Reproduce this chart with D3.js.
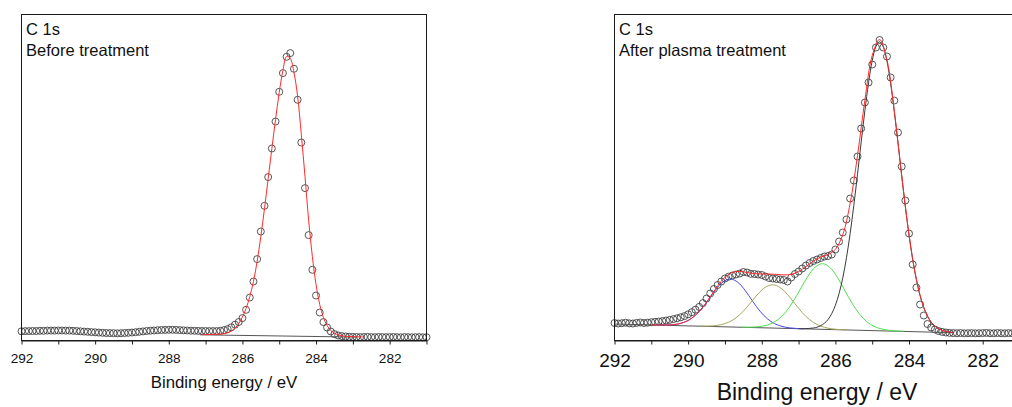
<!DOCTYPE html>
<html>
<head>
<meta charset="utf-8">
<script src="https://cdn.jsdelivr.net/npm/d3@7"></script>
<style>
  body { margin: 0; background: #fff; }
  text { font-family: "Liberation Sans", Arial, sans-serif; fill: #111; }
</style>
</head>
<body>
<div id="chart"></div>
<script>
// binding energy grid of the measured spectra (eV), 0.1 eV steps from 292 to 281
const energyStart = 292, energyStep = 0.1;

// C 1s before treatment: measured intensity (a.u.)
const beforeCounts = [
  9.2, 9.4, 9.4, 9.5, 9.5, 9.7, 9.7, 9.9, 9.9, 9.9,
  10.0, 10.0, 9.9, 9.9, 9.7, 9.5, 9.2, 8.9, 8.7, 8.4,
  8.2, 7.9, 7.7, 7.5, 7.4, 7.3, 7.2, 7.3, 7.5, 7.7,
  8.0, 8.3, 8.7, 9.1, 9.5, 9.8, 10.0, 10.3, 10.5, 10.6,
  10.7, 10.7, 10.6, 10.4, 10.2, 10.0, 9.8, 9.7, 9.6, 9.5,
  9.5, 9.4, 9.4, 9.4, 9.7, 10.4, 11.4, 13.2, 15.8, 18.5,
  22.4, 30.7, 43.0, 59.0, 81.4, 109.0, 134.7, 163.4, 192.0, 219.0,
  248.7, 267.4, 283.7, 287.4, 271.7, 240.7, 198.0, 152.4, 105.4, 70.7,
  45.0, 28.0, 18.4, 13.0, 9.0, 6.4, 5.0, 4.4, 4.0, 3.7,
  3.6, 3.5, 3.4, 3.5, 3.6, 3.4, 3.3, 3.5, 3.4, 3.3,
  3.4, 3.5, 3.3, 3.2, 3.4, 3.3, 3.2, 3.3, 3.4, 3.2,
  3.3
];
// fit envelope and background, before treatment [eV, intensity]
const beforeFit = [
  [287.1, 5.9], [286.9, 6.0], [286.7, 6.2], [286.5, 6.8], [286.4, 7.8], [286.3, 9.5],
  [286.2, 12.5], [286.1, 17], [286.0, 23.5], [285.9, 32], [285.8, 44], [285.7, 59],
  [285.6, 79], [285.5, 104], [285.4, 132], [285.3, 162], [285.2, 192], [285.1, 221],
  [285.0, 248], [284.9, 270], [284.8, 284], [284.7, 282], [284.6, 268], [284.5, 244],
  [284.4, 206], [284.3, 164], [284.2, 120], [284.1, 84], [284.0, 56], [283.9, 36],
  [283.8, 23], [283.7, 15], [283.6, 10], [283.5, 7.2], [283.4, 5.6], [283.3, 4.7],
  [283.2, 4.2], [283.0, 3.8], [282.8, 3.6], [282.7, 3.5]
];
const beforeBackground = [[287.15, 5.7], [282.9, 3.4]];

// C 1s after plasma treatment: measured intensity (a.u.)
const afterCounts = [
  17.5, 17.0, 17.3, 17.8, 17.2, 17.0, 17.6, 18.0, 17.5, 17.8,
  18.3, 18.6, 19.0, 19.4, 20.0, 20.6, 21.4, 22.2, 23.2, 24.4,
  26.2, 28.3, 30.8, 33.6, 37.4, 42.0, 47.0, 51.5, 55.5, 59.0,
  62.0, 63.8, 65.0, 66.0, 67.0, 68.5, 68.0, 66.7, 66.5, 66.0,
  65.5, 64.0, 62.5, 62.0, 61.5, 61.0, 60.5, 59.0, 63.0, 66.5,
  69.0, 72.0, 75.0, 77.5, 79.5, 81.0, 82.5, 84.0, 84.5, 86.0,
  91.0, 99.0, 108.0, 121.0, 142.0, 160.0, 184.0, 212.0, 238.0, 258.0,
  276.0, 293.0, 300.5, 293.0, 284.0, 263.0, 240.0, 208.0, 174.0, 140.0,
  107.0, 76.0, 53.0, 36.0, 25.0, 16.5, 13.0, 11.0, 9.5, 8.6,
  8.0, 7.6, 7.4, 7.3, 7.5, 7.2, 7.3, 7.4, 7.2, 7.3,
  7.4, 7.6, 7.3, 7.2, 7.5, 7.3, 7.2, 7.4, 7.3, 7.2,
  7.3
];
const afterBackground = [[292.0, 16.5], [282.8, 7.8]];
// fitted components after treatment [eV, intensity]
const afterBlue = [
  [290.85, 15.5], [290.65, 15.4], [290.45, 15.7], [290.25, 16.7], [290.05, 19.1],
  [289.85, 23.7], [289.65, 31.0], [289.45, 40.6], [289.25, 50.8], [289.05, 58.6],
  [288.85, 61.5], [288.65, 58.2], [288.45, 50.0], [288.25, 39.4], [288.05, 29.4],
  [287.85, 21.8], [287.65, 16.8], [287.45, 14.1], [287.25, 12.7], [287.05, 12.0],
  [286.85, 11.7]
];
const afterOlive = [
  [289.7, 14.4], [289.5, 14.4], [289.3, 14.7], [289.1, 15.9], [288.9, 18.3],
  [288.7, 22.7], [288.5, 29.4], [288.3, 37.9], [288.1, 46.7], [287.9, 53.3],
  [287.7, 55.7], [287.5, 52.9], [287.3, 46.0], [287.1, 36.8], [286.9, 27.9],
  [286.7, 20.8], [286.5, 16.0], [286.3, 13.2], [286.1, 11.7], [285.9, 11.0],
  [285.7, 10.6]
];
const afterGreen = [
  [288.55, 13.3], [288.35, 13.3], [288.15, 13.6], [287.95, 14.6], [287.75, 16.8],
  [287.55, 21.2], [287.35, 28.5], [287.15, 38.9], [286.95, 51.5], [286.75, 64.0],
  [286.55, 73.4], [286.35, 76.8], [286.15, 73.0], [285.95, 63.3], [285.75, 50.4],
  [285.55, 37.4], [285.35, 26.6], [285.15, 18.9], [284.95, 14.1], [284.75, 11.6],
  [284.55, 10.2], [284.35, 9.5], [284.15, 9.2]
];
const afterMain = [
  [287.0, 11.9], [286.8, 11.9], [286.6, 12.5], [286.5, 13.3], [286.4, 14.8],
  [286.3, 17.2], [286.2, 21.0], [286.1, 26.8], [286.0, 35.3], [285.9, 47.0],
  [285.8, 62.6], [285.7, 82.7], [285.6, 106.9], [285.5, 135.1], [285.4, 166.2],
  [285.3, 198.4], [285.2, 229.7], [285.1, 257.6], [285.0, 279.8], [284.9, 293.9],
  [284.8, 298.7], [284.7, 293.7], [284.6, 279.4], [284.5, 257.0], [284.4, 228.9],
  [284.3, 197.4], [284.2, 165.0], [284.1, 133.7], [284.0, 105.3], [283.9, 81.0],
  [283.8, 60.8], [283.7, 45.0], [283.6, 33.1], [283.5, 24.4], [283.4, 18.4],
  [283.3, 14.4], [283.2, 11.8], [283.1, 10.1], [283.0, 9.1], [282.9, 8.5],
  [282.8, 8.1]
];
const afterFit = [
  [291.0, 15.6], [290.8, 15.5], [290.6, 15.5], [290.4, 15.9], [290.2, 17.2],
  [290.0, 20.0], [289.8, 25.3], [289.6, 33.4], [289.4, 43.7], [289.2, 54.4],
  [289.0, 63.1], [288.8, 68.0], [288.6, 69.1], [288.4, 68.0], [288.2, 66.9],
  [288.0, 66.5], [287.8, 66.5], [287.6, 66.1], [287.4, 65.6], [287.2, 66.1],
  [287.0, 68.9], [286.8, 73.9], [286.6, 79.4], [286.4, 83.4], [286.2, 86.0],
  [286.0, 91.2], [285.8, 106.0], [285.6, 137.0], [285.4, 184.9], [285.2, 240.2],
  [285.0, 285.0], [284.8, 301.1], [284.6, 280.4], [284.4, 229.3], [284.2, 165.2],
  [284.0, 105.4], [283.8, 60.8], [283.6, 33.1], [283.4, 18.4], [283.2, 11.8],
  [283.0, 9.1], [282.8, 8.1]
];

const tickValues = [292, 291, 290, 289, 288, 287, 286, 285, 284, 283, 282, 281];

// set the dimensions of the page
const width = 1012, height = 407;
const plotTop = 14.5, plotBottom = 340.5;

const svg = d3
  .select("#chart")
  .append("svg")
  .attr("width", width)
  .attr("height", height);

function drawPanel(opts) {
  const x = d3.scaleLinear().domain([292, 281]).range([opts.left, opts.left + 405]);
  const y = d3.scaleLinear().domain([0, 326]).range([plotBottom, plotTop]);
  const g = svg.append("g");

  const points = opts.counts.map((v, i) => [energyStart - i * energyStep, v]);

  const line = d3
    .line()
    .x((d) => x(d[0]))
    .y((d) => y(d[1]))
    .curve(d3.curveCatmullRom);

  // measured points
  g.append("g")
    .selectAll("circle")
    .data(points)
    .join("circle")
    .attr("cx", (d) => x(d[0]))
    .attr("cy", (d) => y(d[1]))
    .attr("r", 3.5)
    .attr("fill", "none")
    .attr("stroke", "#383838")
    .attr("stroke-width", 0.85);

  // fit lines
  opts.lines.forEach((l) => {
    g.append("path")
      .datum(l.data)
      .attr("d", line)
      .attr("fill", "none")
      .attr("stroke", l.color)
      .attr("stroke-width", 1);
  });

  // frame
  g.append("rect")
    .attr("x", opts.left)
    .attr("y", plotTop)
    .attr("width", 405)
    .attr("height", plotBottom - plotTop)
    .attr("fill", "none")
    .attr("stroke", "#1a1a1a")
    .attr("stroke-width", 1);

  // x axis
  const axis = g
    .append("g")
    .attr("transform", `translate(0,${plotBottom})`)
    .call(
      d3.axisBottom(x)
        .tickValues(tickValues)
        .tickSize(4)
        .tickSizeOuter(0)
        .tickFormat((d) => (d % 2 === 0 ? d : ""))
    );
  axis.select(".domain").attr("stroke", "#1a1a1a");
  axis.selectAll(".tick line").attr("stroke", "#1a1a1a");
  axis.selectAll(".tick text")
    .attr("y", opts.tickBaseline)
    .attr("dy", 0)
    .style("font-size", opts.tickFont + "px")
    .style("font-family", '"Liberation Sans", Arial, sans-serif')
    .attr("fill", "#111");

  g.append("text")
    .attr("x", opts.left + 202.5)
    .attr("y", opts.titleBaseline)
    .attr("text-anchor", "middle")
    .style("font-size", opts.titleFont + "px")
    .text("Binding energy / eV");

  g.append("text")
    .attr("x", opts.left + 4.5)
    .attr("y", 35)
    .style("font-size", "16.5px")
    .text("C 1s");
  g.append("text")
    .attr("x", opts.left + 4.5)
    .attr("y", 56)
    .style("font-size", "16.5px")
    .text(opts.label);
}

drawPanel({
  left: 21.5,
  counts: beforeCounts,
  label: "Before treatment",
  lines: [
    { data: beforeBackground, color: "#555555" },
    { data: beforeFit, color: "#ff2a2a" }
  ],
  tickFont: 13.6,
  tickBaseline: 22,
  titleFont: 16.8,
  titleBaseline: 388
});

drawPanel({
  left: 614.5,
  counts: afterCounts,
  label: "After plasma treatment",
  lines: [
    { data: afterBackground, color: "#555555" },
    { data: afterBlue, color: "#4a4aee" },
    { data: afterOlive, color: "#a6a65c" },
    { data: afterGreen, color: "#4ee04e" },
    { data: afterMain, color: "#3a3a3a" },
    { data: afterFit, color: "#ff2a2a" }
  ],
  tickFont: 19,
  tickBaseline: 26,
  titleFont: 23,
  titleBaseline: 400
});
</script>
</body>
</html>
